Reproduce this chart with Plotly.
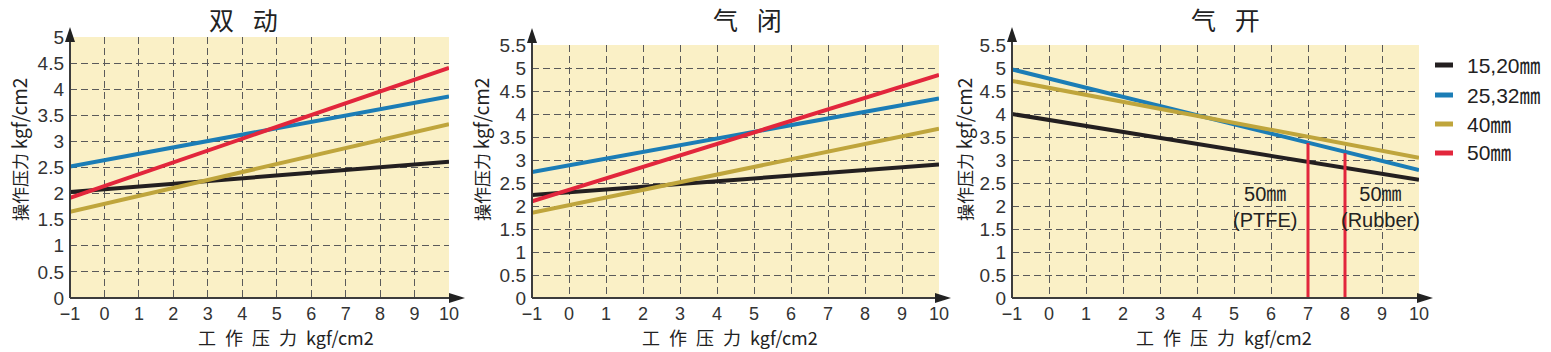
import plotly.graph_objects as go

W, H = 1551, 352

# ---------------- data ----------------
x_ends = [-1, 10]
series_names = ["15,20㎜", "25,32㎜", "40㎜", "50㎜"]
series_colors = ["#231f20", "#1b7db6", "#bfa53c", "#e2263c"]

# 双动 (double acting)
da_1520 = [2.03, 2.61]
da_2532 = [2.52, 3.86]
da_40 = [1.65, 3.33]
da_50 = [1.92, 4.41]

# 气闭 (air to close)
ac_1520 = [2.24, 2.90]
ac_2532 = [2.74, 4.34]
ac_40 = [1.85, 3.68]
ac_50 = [2.10, 4.85]

# 气开 (air to open)
ao_1520 = [4.00, 2.57]
ao_2532 = [4.97, 2.78]
ao_40 = [4.72, 3.05]
ao_50_x = [7, 8]          # 50mm limits (PTFE, Rubber)
ao_50_top = [3.37, 3.15]
ao_50_labels = ["50㎜<br>(PTFE)", "50㎜<br>(Rubber)"]
ao_50_label_x = [5.85, 8.95]

x_ticks = list(range(-1, 11))
panel_titles = ["双\u2002\u2005动", "气\u2002\u2005闭", "气\u2002\u2005开"]
y_max = [5, 5.5, 5.5]

# ---------------- layout geometry (pixels) ----------------
panels = [
    dict(x0=70, x1=449, yb=298, yt=37, tip_top=27, tip_right=465, title_x=243, xt_x=286, yt_x=18),
    dict(x0=532, x1=939, yb=298, yt=45, tip_top=28, tip_right=951, title_x=747, xt_x=730, yt_x=480),
    dict(x0=1012, x1=1419, yb=298, yt=45, tip_top=27, tip_right=1433, title_x=1225, xt_x=1224, yt_x=963),
]

def px(x):
    return x / W

def py(y):
    return 1 - y / H

FONT = "Liberation Sans, Noto Sans CJK SC, sans-serif"
CJK = "Noto Sans CJK SC, Liberation Sans, sans-serif"

fig = go.Figure()

panel_data = [
    [da_1520, da_2532, da_40, da_50],
    [ac_1520, ac_2532, ac_40, ac_50],
    [ao_1520, ao_2532, ao_40],
]

for i, data in enumerate(panel_data):
    sfx = "" if i == 0 else str(i + 1)
    for name, color, ys in zip(series_names, series_colors, data):
        fig.add_trace(go.Scatter(
            x=x_ends, y=ys, mode="lines", name=name,
            line=dict(color=color, width=4),
            xaxis="x" + sfx, yaxis="y" + sfx, showlegend=False, hoverinfo="skip",
        ))

# red vertical limits in 气开 panel
vx, vy = [], []
for xv, top in zip(ao_50_x, ao_50_top):
    vx += [xv, xv, None]
    vy += [0, top, None]
fig.add_trace(go.Scatter(
    x=vx, y=vy, mode="lines", name=series_names[3],
    line=dict(color=series_colors[3], width=3),
    xaxis="x3", yaxis="y3", showlegend=False, hoverinfo="skip",
))

layout = dict(
    width=W, height=H, margin=dict(l=0, r=0, t=0, b=0, autoexpand=False),
    paper_bgcolor="white", plot_bgcolor="#faf0c6", showlegend=False,
)

grid_kw = dict(showgrid=True, gridcolor="#5a5a5a", gridwidth=1, griddash="7px,4px",
               zeroline=False, showline=False, ticks="", automargin=False)

shapes, annotations = [], []
for i, p in enumerate(panels):
    sfx = "" if i == 0 else str(i + 1)
    layout["xaxis" + sfx] = dict(
        domain=[px(p["x0"]), px(p["x1"])], range=[-1, 10], tickvals=x_ticks,
        anchor="y" + sfx, ticklabelstandoff=3,
        tickfont=dict(family=FONT, size=18, color="#333333"), **grid_kw)
    ytv = [k * 0.5 for k in range(int(y_max[i] * 2) + 1)]
    layout["yaxis" + sfx] = dict(
        domain=[py(p["yb"]), py(p["yt"])], range=[0, y_max[i]], tickvals=ytv,
        ticktext=[("%g" % v) for v in ytv],
        anchor="x" + sfx, ticklabelstandoff=5,
        tickfont=dict(family=FONT, size=19, color="#333333"), **grid_kw)

    ax = px(p["x0"]); ab = py(p["yb"])
    # axis lines
    shapes.append(dict(type="line", xref="paper", yref="paper", x0=ax, x1=ax,
                       y0=ab, y1=py(p["tip_top"] + 10), line=dict(color="#3c3c3c", width=2)))
    shapes.append(dict(type="line", xref="paper", yref="paper", x0=ax, x1=px(p["tip_right"] - 12),
                       y0=ab, y1=ab, line=dict(color="#3c3c3c", width=2)))
    # arrow heads
    t = p["tip_top"]; xc = p["x0"]
    shapes.append(dict(type="path", xref="paper", yref="paper",
                       path=f"M {px(xc)},{py(t)} L {px(xc-5)},{py(t+15)} L {px(xc+5)},{py(t+15)} Z",
                       fillcolor="#222222", line=dict(width=0)))
    r = p["tip_right"]; yc = p["yb"]
    shapes.append(dict(type="path", xref="paper", yref="paper",
                       path=f"M {px(r)},{py(yc)} L {px(r-16)},{py(yc-5)} L {px(r-16)},{py(yc+5)} Z",
                       fillcolor="#222222", line=dict(width=0)))

    # panel title
    annotations.append(dict(text=panel_titles[i], xref="paper", yref="paper",
                            x=px(p["title_x"]), y=py(19), showarrow=False,
                            font=dict(family=CJK, size=25, color="#222222"),
                            xanchor="center", yanchor="middle"))
    # x axis title
    annotations.append(dict(
        text="工\u2002作\u2002压\u2002力\u2002<span style='font-size:18px'>kgf/cm2</span>",
        xref="paper", yref="paper", x=px(p["xt_x"]), y=py(337), showarrow=False,
        font=dict(family=CJK, size=18, color="#222222"), xanchor="center", yanchor="middle",
        borderpad=0))
    # y axis title
    annotations.append(dict(
        text="操作压力 <span style='font-size:19px'>kgf/cm2</span>",
        xref="paper", yref="paper", x=px(p["yt_x"]), y=py(150), showarrow=False, textangle=-90,
        font=dict(family=CJK, size=17, color="#222222"), xanchor="center", yanchor="middle"))

# 50mm labels in 气开 panel
for txt, lx in zip(ao_50_labels, ao_50_label_x):
    annotations.append(dict(text=txt, xref="x3", yref="y3", x=lx, y=1.98, showarrow=False,
                            font=dict(family=FONT, size=20, color="#222222"),
                            xanchor="center", yanchor="middle"))

# manual legend
leg_y = [65, 95, 124, 153]
for name, color, ly in zip(series_names, series_colors, leg_y):
    shapes.append(dict(type="line", xref="paper", yref="paper", x0=px(1435), x1=px(1453),
                       y0=py(ly), y1=py(ly), line=dict(color=color, width=5)))
    annotations.append(dict(text=name, xref="paper", yref="paper", x=px(1465), y=py(ly),
                            showarrow=False, xanchor="left", yanchor="middle",
                            font=dict(family=FONT, size=21, color="#222222")))

layout["shapes"] = shapes
layout["annotations"] = annotations
fig.update_layout(**layout)
fig.write_html("out.html")
